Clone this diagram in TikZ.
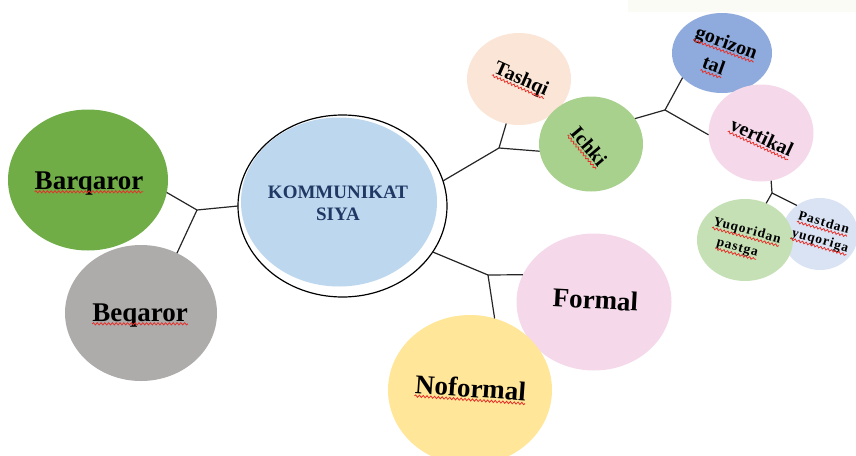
\documentclass[tikz,border=0pt]{standalone}
\usepackage{fontspec}
\setmainfont{Liberation Serif}
\newfontfamily\spacedserif[LetterSpace=7]{Liberation Serif}
\usetikzlibrary{shapes.geometric,calc,decorations.pathmorphing}

\definecolor{cBarq}{HTML}{70AD47}
\definecolor{cBeq}{HTML}{AEABAB}
\definecolor{cKom}{HTML}{BDD7EE}
\definecolor{cNavy}{HTML}{1F3864}
\definecolor{cTash}{HTML}{FBE5D6}
\definecolor{cIch}{HTML}{A9D18E}
\definecolor{cGor}{HTML}{8FAADC}
\definecolor{cPink}{HTML}{F5D9EA}
\definecolor{cYuq}{HTML}{C5E0B4}
\definecolor{cPast}{HTML}{DAE3F3}
\definecolor{cNof}{HTML}{FFE699}
\definecolor{cHaze}{HTML}{FBFBF5}
\definecolor{cSpell}{HTML}{E5302A}

% red wavy line under a word node
\newcommand\squig[1]{\draw[squiggle] ($(#1.base west)!2.8pt!-90:(#1.base east)$) -- ($(#1.base east)!2.8pt!90:(#1.base west)$);}

\begin{document}
\begin{tikzpicture}[x=1pt,y=-1pt,
  bubble/.style={ellipse, inner sep=0pt, outer sep=0pt, draw=none},
  word/.style={inner sep=0pt, outer sep=0pt, text=black},
  bigword/.style={word, font=\bfseries\fontsize{27}{30}\selectfont},
  midword/.style={word, font=\bfseries\fontsize{20}{22}\selectfont},
  smallword/.style={word, font=\spacedserif\bfseries\fontsize{13.5}{15}\selectfont},
  komword/.style={word, text=cNavy, font=\bfseries\fontsize{19}{22}\selectfont},
  link/.style={draw=black!85, line width=1.2pt},
  squiggle/.style={draw=cSpell, line width=0.8pt, decorate,
    decoration={snake, amplitude=1.1pt, segment length=3.8pt}}]

\useasboundingbox (0,0) rectangle (856,455);
\clip (0,0) rectangle (856,455);
\fill[cHaze] (628,0) rectangle (856,12);

% bubbles
\node[bubble, fill=cBarq, minimum width=160pt, minimum height=141pt] (barq) at (88,180) {};
\node[bubble, fill=cBeq, minimum width=152pt, minimum height=136pt] (beq) at (141,313) {};
\node[bubble, draw=black, line width=1.2pt, fill=white, minimum width=209pt, minimum height=182pt] (kom) at (342.5,206) {};
\node[bubble, fill=cKom, minimum width=196pt, minimum height=169pt] (komin) at (339,202) {};
\node[bubble, fill=cTash, minimum width=104pt, minimum height=92pt] (tash) at (519,79) {};
\node[bubble, fill=cIch, minimum width=104pt, minimum height=95pt] (ich) at (591,144) {};
\node[bubble, fill=cGor, minimum width=100pt, minimum height=80pt] (gor) at (722,53) {};
\node[bubble, fill=cPink, minimum width=105pt, minimum height=97pt] (vert) at (761,133) {};
\node[bubble, fill=cPast, minimum width=76pt, minimum height=72pt] (past) at (820,234) {};
\node[bubble, fill=cYuq, minimum width=96pt, minimum height=82pt] (yuq) at (745,240) {};
\node[bubble, fill=cPink, minimum width=155pt, minimum height=137pt] (form) at (594,302) {};
\node[bubble, fill=cNof, minimum width=164pt, minimum height=150pt] (nof) at (470,390) {};

% connectors
\coordinate (j1) at (197,210);
\draw[link] (barq.-9) -- (j1) -- (kom.180);
\draw[link] (beq.59) -- (j1);

\coordinate (j2) at (499,148);
\draw[link] (kom.14) -- (j2) -- (ich.188);
\draw[link] (tash.-106) -- (j2);

\coordinate (j3) at (665,110);
\draw[link] (ich.30) -- (j3) -- (vert.182);
\draw[link] (gor.-148) -- (j3);

\coordinate (j4) at (772,193);
\draw[link] (vert.-78) -- (j4) -- (past.129);
\draw[link] (yuq.60) -- (j4);

\coordinate (j5) at (488,275);
\draw[link] (kom.-27) -- (j5) -- (form.159);
\draw[link] (nof.71) -- (j5);

% labels
\node[komword, anchor=base] (k1) at (338,198) {KOMMUNIKAT};
\node[komword, anchor=base] (k2) at (338,220) {SIYA};

\node[bigword, anchor=base] (tbarq) at (89,189) {Barqaror};
\node[bigword, anchor=base] (tbeq) at (140,321) {Beqaror};
\node[bigword, anchor=base, rotate=-3] (tform) at (595,309) {Formal};
\node[bigword, anchor=base, rotate=-4] (tnof) at (470,397) {Noformal};

\node[midword, rotate=-24] (ttash) at (521,80) {Tashqi};
\node[midword, rotate=-50] (tich) at (589,146) {Ichki};
\node[midword, rotate=-20] (tgor1) at (726,44) {gorizon};
\node[midword, rotate=-20] (tgor2) at (714,65) {tal};
\node[midword, rotate=-25] (tvert) at (762,137) {vertikal};

\node[smallword, rotate=-15] (tyuq1) at (747,231) {Yuqoridan};
\node[smallword, rotate=-15] (tyuq2) at (737,249) {pastga};
\node[smallword, rotate=-16] (tpast1) at (824,222) {Pastdan};
\node[smallword, rotate=-16] (tpast2) at (820,241) {yuqoriga};

% spelling marks
\squig{tbarq}\squig{tbeq}\squig{tnof}
\squig{ttash}\squig{tich}\squig{tgor1}\squig{tgor2}\squig{tvert}
\squig{tyuq1}\squig{tyuq2}\squig{tpast1}\squig{tpast2}
\end{tikzpicture}
\end{document}
